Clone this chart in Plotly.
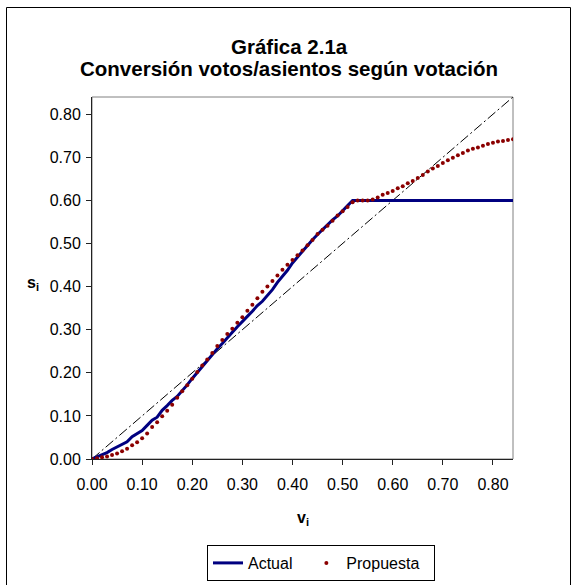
import plotly.graph_objects as go

# votes share (v) and seat share (s)
actual_v = [0.00, 0.02, 0.03, 0.04, 0.05, 0.06, 0.07, 0.08, 0.09, 0.10,
            0.11, 0.12, 0.13, 0.14, 0.15, 0.16, 0.17, 0.18, 0.19, 0.20,
            0.21, 0.22, 0.23, 0.24, 0.25, 0.26, 0.27, 0.28, 0.29, 0.30,
            0.31, 0.32, 0.33, 0.34, 0.35, 0.36, 0.37, 0.38, 0.39, 0.40,
            0.41, 0.42, 0.43, 0.44, 0.45, 0.46, 0.47, 0.48, 0.49, 0.50,
            0.51, 0.52, 0.84]
actual_s = [0.000, 0.010, 0.015, 0.022, 0.028, 0.034, 0.040, 0.052, 0.060, 0.066,
            0.078, 0.090, 0.097, 0.113, 0.124, 0.136, 0.145, 0.158, 0.172, 0.187,
            0.201, 0.214, 0.228, 0.242, 0.256, 0.268, 0.280, 0.294, 0.307, 0.320,
            0.331, 0.343, 0.356, 0.366, 0.379, 0.393, 0.410, 0.424, 0.438, 0.455,
            0.469, 0.482, 0.496, 0.509, 0.521, 0.533, 0.545, 0.555, 0.564, 0.575,
            0.588, 0.600, 0.600]

propuesta_v = [round(i * 0.01, 2) for i in range(85)]
propuesta_s = [0.000, 0.002, 0.004, 0.006, 0.009, 0.013, 0.018, 0.024, 0.032, 0.039,
               0.048, 0.059, 0.074, 0.085, 0.099, 0.112, 0.126, 0.142, 0.157, 0.171,
               0.186, 0.202, 0.217, 0.231, 0.246, 0.262, 0.276, 0.290, 0.302, 0.316,
               0.329, 0.344, 0.358, 0.373, 0.388, 0.400, 0.413, 0.426, 0.439, 0.451,
               0.462, 0.473, 0.484, 0.496, 0.508, 0.522, 0.532, 0.541, 0.553, 0.565,
               0.575, 0.585, 0.596, 0.600, 0.600, 0.600, 0.602, 0.607, 0.613, 0.617,
               0.622, 0.628, 0.633, 0.640, 0.645, 0.652, 0.659, 0.667, 0.674, 0.680,
               0.687, 0.693, 0.699, 0.705, 0.710, 0.716, 0.720, 0.723, 0.727, 0.731,
               0.734, 0.737, 0.738, 0.740, 0.742]

diag = [0.0, 0.84]
ticks = [0.0, 0.1, 0.2, 0.3, 0.4, 0.5, 0.6, 0.7, 0.8]

title1 = 'Gráfica 2.1a'
title2 = 'Conversión votos/asientos según votación'

font = 'Liberation Sans, Arial, sans-serif'
W, H = 578, 585
L, R, T, B = 92, 65, 97, 126
pw, ph = W - L - R, H - T - B


def px(x):
    return (x - L) / pw


def py(y):
    return (H - B - y) / ph


nb = '\u00a0'

fig = go.Figure()
fig.add_trace(go.Scatter(x=diag, y=diag, mode='lines', showlegend=False,
                         line=dict(color='black', width=1, dash='10px,3px,2px,3px')))
fig.add_trace(go.Scatter(x=actual_v, y=actual_s, mode='lines', name='Actual' + nb * 2,
                         line=dict(color='#000080', width=3)))
fig.add_trace(go.Scatter(x=propuesta_v, y=propuesta_s, mode='markers',
                         name='Propuesta' + nb * 2,
                         marker=dict(color='#8b0000', size=4)))

axis = dict(range=[0, 0.84], tickvals=ticks, tickformat='.2f', showgrid=False,
            zeroline=False, showline=True, linecolor='#222', linewidth=1,
            ticks='outside', ticklen=5, tickcolor='#222', automargin=False,
            tickfont=dict(family=font, size=16, color='black'))


def label(text, x, y, size):
    return dict(text=text, xref='paper', yref='paper', x=x, y=y,
                xanchor='center', yanchor='middle', showarrow=False,
                font=dict(size=size))


fig.update_layout(
    width=W, height=H,
    margin=dict(l=L, r=R, t=T, b=B, autoexpand=False),
    paper_bgcolor='white', plot_bgcolor='white',
    font=dict(family=font, color='black'),
    xaxis=dict(axis, ticklabelstandoff=6), yaxis=dict(axis, ticklabelstandoff=2),
    legend=dict(orientation='h', xref='container', yref='container',
                x=207 / W, xanchor='left', y=1 - 581 / H, yanchor='bottom',
                bordercolor='black', borderwidth=1, font=dict(size=16)),
    shapes=[
        # plot area border
        dict(type='rect', xref='paper', yref='paper', x0=0, y0=0, x1=1, y1=1,
             line=dict(color='#808080', width=1), layer='below'),
        # chart frame
        dict(type='rect', xref='paper', yref='paper',
             x0=px(6.5), x1=px(570.5), y0=py(590), y1=py(7.5),
             line=dict(color='black', width=1)),
    ],
    annotations=[
        label('<b>' + title1 + '</b>', px(289), py(46), 20.5),
        label('<b>' + title2 + '</b>', px(289), py(68), 20.5),
        label('<b>s<sub>i</sub></b>', px(33), py(283), 16),
        label('<b>v<sub>i</sub></b>', 0.5, py(518), 16),
    ],
)

fig.write_html('out.html', config={'displayModeBar': False},
               post_script="document.body.style.margin='0';")
